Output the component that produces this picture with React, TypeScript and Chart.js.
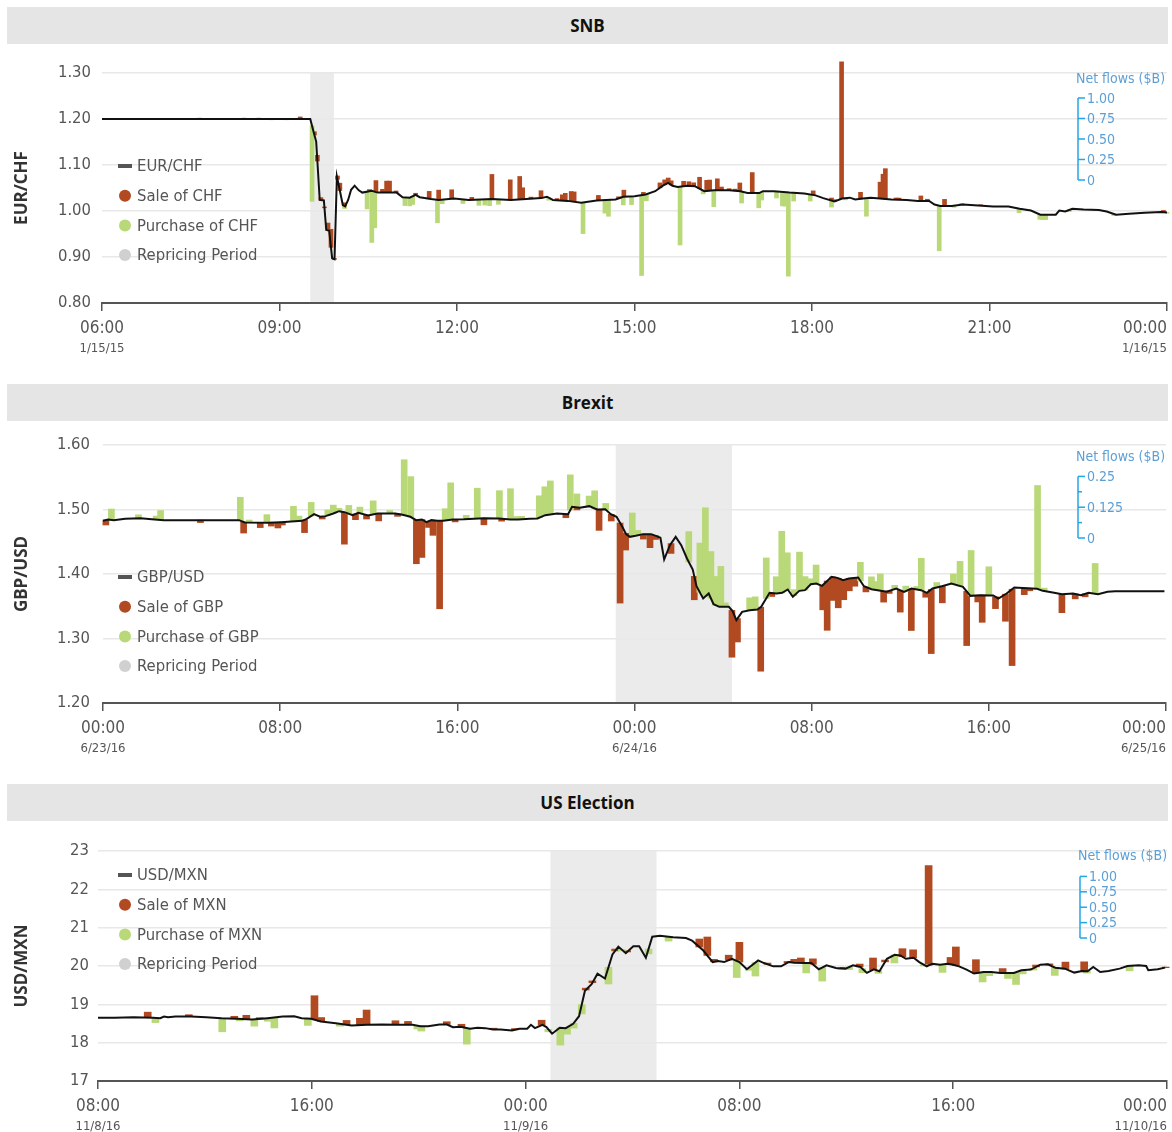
import React, { useEffect, useRef } from 'react';
import { Chart, registerables } from 'chart.js';

Chart.register(...registerables);

const ORANGE = '#b24a21';
const GREEN = '#b9d878';
const BAND = '#ebebeb';
const DOT_GRAY = '#d0d0d0';
const TXT = '#555555';
const AXIS = '#555555';
const GRID = '#e8e8e8';
const BLUE_LINE = '#22a6e6';
const BLUE_TXT = '#5c9fd6';
const COND = "'Liberation Sans Narrow', 'DejaVu Sans Condensed', sans-serif";
const HEAD = "'Open Sans', 'DejaVu Sans', sans-serif";

// ---------------- SNB (EUR/CHF), hours of 1/15/15 ----------------
const snbTimes = [6.0, 9.52, 9.58, 9.62, 9.68, 9.75, 9.79, 9.84, 9.89, 9.93, 9.97, 10.0, 10.07, 10.11, 10.16, 10.21, 10.27, 10.34, 10.4, 10.56, 10.66, 10.98, 11.08, 11.2, 11.3, 11.37, 11.56, 11.69, 11.95, 12.2, 12.59, 12.91, 13.17, 13.42, 13.52, 13.62, 13.87, 14.1, 14.36, 14.68, 14.81, 15.0, 15.19, 15.35, 15.48, 15.57, 15.64, 15.73, 15.89, 16.02, 16.12, 16.18, 16.34, 16.6, 16.79, 16.91, 17.11, 17.17, 17.36, 17.62, 17.87, 18.06, 18.19, 18.38, 18.51, 18.64, 18.73, 18.86, 18.99, 19.15, 19.34, 19.6, 19.79, 19.98, 20.07, 20.17, 20.36, 20.55, 20.81, 21.06, 21.32, 21.51, 21.7, 21.86, 22.12, 22.18, 22.28, 22.4, 22.59, 22.85, 22.98, 23.14, 23.36, 23.62, 23.9, 24.0];
const snbRates = [1.2, 1.2, 1.17, 1.151, 1.024, 1.023, 0.959, 0.957, 0.897, 0.895, 1.075, 1.057, 1.013, 1.01, 1.024, 1.046, 1.055, 1.045, 1.04, 1.044, 1.04, 1.04, 1.03, 1.029, 1.035, 1.03, 1.026, 1.024, 1.027, 1.024, 1.026, 1.024, 1.026, 1.028, 1.031, 1.024, 1.022, 1.018, 1.023, 1.025, 1.031, 1.032, 1.036, 1.043, 1.055, 1.061, 1.055, 1.052, 1.055, 1.054, 1.047, 1.043, 1.045, 1.045, 1.043, 1.039, 1.039, 1.043, 1.043, 1.04, 1.038, 1.034, 1.028, 1.021, 1.027, 1.029, 1.025, 1.027, 1.029, 1.027, 1.025, 1.024, 1.022, 1.022, 1.014, 1.011, 1.011, 1.014, 1.012, 1.01, 1.01, 1.005, 1.001, 0.992, 0.992, 1.001, 0.999, 1.005, 1.003, 1.002, 0.999, 0.992, 0.994, 0.996, 0.998, 0.997];
const snbSaleTimes = [7.65, 8.4, 8.65, 9.35, 9.59, 9.64, 9.7, 9.76, 9.82, 9.87, 9.93, 9.98, 10.02, 10.1, 10.52, 10.63, 10.74, 10.81, 10.86, 10.97, 11.3, 11.53, 11.69, 11.91, 12.25, 12.59, 12.9, 13.06, 13.11, 13.25, 13.42, 13.69, 13.78, 13.83, 13.93, 13.98, 14.39, 14.73, 14.82, 15.15, 15.43, 15.51, 15.57, 15.62, 15.83, 15.92, 16.0, 16.1, 16.22, 16.27, 16.4, 16.47, 16.6, 16.7, 16.78, 16.99, 18.02, 18.33, 18.38, 18.5, 18.82, 19.15, 19.2, 19.24, 19.42, 19.47, 19.84, 19.95, 20.24, 20.53, 20.85, 23.94];
const snbSaleFlows = [0.01, 0.01, 0.01, 0.025, 0.04, 0.07, 0.03, 0.01, 0.09, 0.22, 0.01, 0.04, 0.09, 0.04, 0.02, 0.14, 0.04, 0.14, 0.14, 0.02, 0.02, 0.09, 0.12, 0.11, 0.03, 0.3, 0.245, 0.28, 0.14, 0.02, 0.09, 0.02, 0.07, 0.09, 0.12, 0.12, 0.06, 0.02, 0.08, 0.03, 0.06, 0.06, 0.06, 0.05, 0.06, 0.05, 0.04, 0.14, 0.13, 0.13, 0.14, 0.04, 0.02, 0.02, 0.1, 0.25, 0.05, 0.03, 0.02, 1.67, 0.08, 0.2, 0.3, 0.37, 0.02, 0.02, 0.06, 0.02, 0.08, 0.01, 0.01, 0.02];
const snbPurchaseTimes = [8.86, 9.12, 9.55, 10.1, 10.48, 10.56, 10.61, 11.12, 11.2, 11.25, 11.67, 11.75, 12.1, 12.37, 12.47, 12.55, 12.7, 13.55, 14.13, 14.5, 14.56, 14.81, 14.95, 15.12, 15.2, 15.77, 16.16, 16.34, 16.81, 17.1, 17.15, 17.4, 17.5, 17.55, 17.6, 17.69, 17.97, 18.33, 18.57, 18.92, 20.15, 20.4, 21.5, 21.85, 21.9, 21.95, 22.35, 23.1, 24.0];
const snbPurchaseFlows = [0.01, 0.01, 0.92, 0.03, 0.21, 0.63, 0.44, 0.1, 0.1, 0.1, 0.28, 0.05, 0.05, 0.07, 0.07, 0.08, 0.06, 0.03, 0.38, 0.16, 0.2, 0.1, 0.1, 0.98, 0.08, 0.71, 0.04, 0.2, 0.14, 0.18, 0.1, 0.08, 0.17, 0.17, 1.02, 0.1, 0.08, 0.08, 0.02, 0.22, 0.55, 0.02, 0.05, 0.06, 0.06, 0.06, 0.02, 0.02, 0.01];
const snbTickLabels = ['06:00', '09:00', '12:00', '15:00', '18:00', '21:00', '00:00'];
const snbDateLabels = ['1/15/15', '', '', '', '', '', '1/16/15'];
const snbRepricing = [9.52, 9.92];
const snbFlowTicks = [0, 0.25, 0.5, 0.75, 1];
const snbFlowTickLabels = ['0', '0.25', '0.50', '0.75', '1.00'];

// ---------------- Brexit (GBP/USD), hours from 6/23/16 00:00 ----------------
const brxTimes = [0, 0.23, 0.49, 1.0, 1.7, 2.2, 2.75, 4.0, 5.7, 6.14, 6.4, 7.44, 8.05, 8.5, 9.0, 9.2, 9.53, 9.8, 10.05, 10.4, 10.66, 10.9, 11.27, 11.53, 11.97, 12.4, 12.8, 13.2, 13.53, 13.88, 14.14, 14.4, 14.6, 14.83, 15.1, 15.36, 15.8, 16.3, 17.2, 17.88, 18.4, 18.75, 19.27, 19.62, 19.97, 20.5, 21.0, 21.18, 21.53, 21.96, 22.2, 22.33, 22.68, 22.93, 23.19, 23.45, 23.62, 23.79, 24.05, 24.4, 24.74, 25.0, 25.17, 25.34, 25.6, 25.86, 26.11, 26.37, 26.63, 26.8, 27.1, 27.35, 27.57, 27.83, 28.26, 28.43, 28.6, 28.86, 29.2, 29.55, 29.72, 30.1, 30.41, 30.67, 30.92, 31.15, 31.44, 31.7, 31.96, 32.21, 32.47, 32.9, 33.16, 33.42, 33.68, 34.1, 34.36, 34.7, 35.39, 35.82, 36.17, 36.51, 36.94, 37.2, 37.46, 37.88, 38.31, 38.83, 39.17, 39.6, 40.2, 40.43, 40.8, 41.15, 41.75, 42.18, 42.44, 42.95, 43.3, 43.8, 44.16, 44.5, 44.93, 45.36, 45.7, 47.93];
const brxRates = [1.4825, 1.4845, 1.4835, 1.4856, 1.4866, 1.485, 1.4835, 1.4835, 1.4835, 1.4835, 1.48, 1.4794, 1.4804, 1.4814, 1.4825, 1.4856, 1.4928, 1.4887, 1.4897, 1.4938, 1.4974, 1.4959, 1.4912, 1.4948, 1.4907, 1.4938, 1.4938, 1.4938, 1.4918, 1.4887, 1.4835, 1.4845, 1.4804, 1.4835, 1.4825, 1.4825, 1.4845, 1.485, 1.4866, 1.4861, 1.4845, 1.4845, 1.4856, 1.4861, 1.4912, 1.4938, 1.4928, 1.5041, 1.5026, 1.5052, 1.5015, 1.5, 1.5005, 1.4928, 1.4886, 1.4731, 1.4618, 1.4576, 1.4592, 1.4618, 1.4618, 1.4587, 1.4561, 1.4225, 1.4447, 1.4576, 1.4447, 1.424, 1.407, 1.3811, 1.362, 1.3698, 1.3532, 1.3491, 1.3491, 1.3424, 1.3284, 1.3413, 1.3439, 1.345, 1.3491, 1.3708, 1.3698, 1.3708, 1.376, 1.3646, 1.3739, 1.375, 1.3842, 1.3853, 1.3817, 1.3956, 1.394, 1.3904, 1.393, 1.3946, 1.3811, 1.3765, 1.3724, 1.3775, 1.3724, 1.3775, 1.3749, 1.3708, 1.3775, 1.3811, 1.3853, 1.3801, 1.3661, 1.3672, 1.3667, 1.362, 1.3698, 1.3791, 1.378, 1.377, 1.3739, 1.3708, 1.3687, 1.3698, 1.3672, 1.3708, 1.3687, 1.3724, 1.3734, 1.3734];
const brxSaleTimes = [0.13, 4.4, 6.35, 7.1, 7.6, 7.9, 8.1, 9.1, 9.9, 10.9, 11.4, 11.9, 12.45, 13.3, 14.15, 14.4, 14.7, 14.9, 15.2, 15.9, 17.2, 18.0, 20.9, 21.4, 22.4, 22.95, 23.35, 23.6, 24.4, 24.7, 24.95, 25.65, 26.7, 28.4, 28.65, 29.7, 30.2, 32.5, 32.7, 32.95, 33.2, 33.45, 33.7, 33.95, 34.45, 35.25, 35.5, 36.0, 36.5, 37.15, 37.4, 37.9, 39.0, 39.5, 39.7, 40.3, 40.75, 41.05, 41.6, 41.85, 43.3, 43.9, 44.35];
const brxSaleFlows = [0.02, 0.01, 0.045, 0.02, 0.014, 0.023, 0.012, 0.052, 0.01, 0.13, 0.023, 0.016, 0.03, 0.01, 0.177, 0.154, 0.025, 0.061, 0.357, 0.01, 0.027, 0.01, 0.015, 0.01, 0.085, 0.027, 0.325, 0.068, 0.02, 0.055, 0.015, 0.04, 0.095, 0.19, 0.095, 0.26, 0.014, 0.1, 0.2, 0.095, 0.12, 0.08, 0.05, 0.034, 0.02, 0.044, 0.01, 0.089, 0.17, 0.02, 0.26, 0.068, 0.22, 0.027, 0.11, 0.048, 0.11, 0.31, 0.027, 0.01, 0.075, 0.02, 0.012];
const brxPurchaseTimes = [0.38, 1.6, 2.4, 2.6, 6.2, 6.6, 7.4, 8.6, 8.85, 9.4, 10.15, 10.4, 10.65, 11.1, 11.6, 12.2, 12.95, 13.6, 13.9, 15.45, 15.7, 16.4, 16.9, 17.9, 18.4, 18.65, 18.9, 19.7, 19.95, 20.2, 21.1, 21.4, 21.95, 22.2, 22.7, 23.9, 24.15, 26.45, 26.95, 27.2, 27.45, 27.65, 27.9, 28.1, 29.2, 29.45, 29.95, 30.4, 30.65, 30.9, 31.2, 31.45, 31.7, 31.95, 32.2, 34.2, 34.7, 34.9, 35.1, 35.75, 36.25, 36.75, 36.95, 37.65, 38.4, 38.7, 39.2, 40.0, 42.2, 42.5, 44.8];
const brxPurchaseFlows = [0.044, 0.014, 0.014, 0.038, 0.095, 0.01, 0.033, 0.061, 0.02, 0.055, 0.022, 0.034, 0.012, 0.034, 0.025, 0.055, 0.012, 0.225, 0.164, 0.048, 0.15, 0.015, 0.123, 0.113, 0.125, 0.012, 0.012, 0.089, 0.116, 0.136, 0.143, 0.055, 0.041, 0.072, 0.025, 0.095, 0.02, 0.123, 0.2, 0.36, 0.19, 0.116, 0.164, 0.016, 0.05, 0.052, 0.164, 0.068, 0.25, 0.15, 0.025, 0.157, 0.055, 0.023, 0.075, 0.075, 0.05, 0.034, 0.068, 0.015, 0.02, 0.012, 0.13, 0.02, 0.041, 0.1, 0.184, 0.116, 0.42, 0.012, 0.123];
const brxTickLabels = ['00:00', '08:00', '16:00', '00:00', '08:00', '16:00', '00:00'];
const brxDateLabels = ['6/23/16', '', '', '6/24/16', '', '', '6/25/16'];
const brxRepricing = [23.15, 28.4];
const brxFlowTicks = [0, 0.0625, 0.125, 0.1875, 0.25];
const brxFlowTickLabels = ['0', '', '0.125', '', '0.25'];

// ---------------- US Election (USD/MXN), hours from 11/8/16 00:00 ----------------
const usTimes = [8.0, 8.62, 9.33, 10.05, 10.33, 10.47, 10.62, 10.9, 11.48, 12.05, 12.62, 13.2, 13.77, 14.34, 14.91, 15.34, 15.62, 15.98, 16.34, 16.9, 17.49, 18.06, 18.63, 19.2, 19.77, 20.06, 20.35, 20.78, 21.06, 21.28, 21.56, 21.92, 22.2, 22.49, 22.78, 23.06, 23.49, 23.77, 24.06, 24.2, 24.35, 24.63, 24.78, 24.99, 25.28, 25.5, 25.78, 26.0, 26.22, 26.47, 26.69, 26.97, 27.25, 27.47, 27.75, 28.03, 28.25, 28.5, 28.74, 29.03, 29.52, 30.0, 30.23, 30.65, 31.0, 31.2, 31.43, 31.72, 32.0, 32.28, 32.7, 32.92, 33.27, 33.56, 33.84, 34.05, 34.48, 34.69, 34.97, 35.26, 35.61, 35.97, 36.25, 36.53, 36.77, 37.03, 37.24, 37.52, 37.81, 38.02, 38.23, 38.52, 38.73, 39.01, 39.22, 39.51, 39.79, 40.0, 40.22, 40.5, 40.78, 41.14, 41.42, 41.77, 41.99, 42.27, 42.55, 42.9, 43.26, 43.54, 43.82, 44.18, 44.53, 44.82, 45.03, 45.24, 45.5, 45.81, 46.23, 46.52, 46.94, 47.22, 47.3, 47.65, 47.93];
const usRates = [18.647, 18.647, 18.664, 18.647, 18.638, 18.681, 18.664, 18.681, 18.681, 18.664, 18.638, 18.621, 18.603, 18.638, 18.681, 18.69, 18.638, 18.621, 18.552, 18.509, 18.448, 18.466, 18.474, 18.466, 18.466, 18.431, 18.431, 18.474, 18.474, 18.405, 18.414, 18.362, 18.388, 18.379, 18.345, 18.345, 18.319, 18.362, 18.362, 18.466, 18.379, 18.466, 18.405, 18.233, 18.388, 18.379, 18.491, 18.69, 19.353, 19.526, 19.8, 19.674, 20.3, 20.506, 20.335, 20.515, 20.515, 20.215, 20.764, 20.79, 20.747, 20.73, 20.661, 20.403, 20.103, 20.129, 20.103, 20.189, 20.103, 19.914, 20.146, 20.077, 19.991, 19.991, 20.103, 20.086, 20.077, 20.077, 19.914, 20.017, 19.948, 19.931, 20.017, 19.974, 19.82, 19.914, 19.863, 20.189, 20.292, 20.275, 20.189, 20.215, 20.103, 19.991, 20.06, 20.034, 20.06, 20.034, 19.991, 19.906, 19.803, 19.845, 19.845, 19.82, 19.82, 19.82, 19.888, 19.906, 20.034, 20.043, 19.957, 19.931, 19.828, 19.871, 19.863, 19.974, 19.845, 19.871, 19.931, 20.0, 20.017, 20.0, 19.888, 19.914, 19.957];
const usSaleTimes = [9.86, 11.4, 13.1, 13.55, 14.05, 16.1, 16.35, 17.3, 17.8, 18.05, 19.13, 19.6, 21.05, 21.6, 22.8, 23.6, 24.6, 26.25, 26.5, 27.35, 27.8, 30.5, 30.8, 31.05, 31.6, 32.0, 33.05, 33.8, 34.05, 34.3, 34.75, 35.9, 36.5, 37.0, 37.45, 38.1, 38.5, 39.08, 39.9, 40.1, 40.85, 41.85, 43.1, 43.6, 44.2, 44.9, 47.95];
const usSaleFlows = [0.09, 0.03, 0.04, 0.065, 0.02, 0.39, 0.065, 0.07, 0.11, 0.24, 0.065, 0.055, 0.045, 0.045, 0.02, 0.02, 0.08, 0.03, 0.03, 0.03, 0.02, 0.13, 0.3, 0.04, 0.08, 0.32, 0.02, 0.02, 0.055, 0.08, 0.09, 0.02, 0.045, 0.19, 0.03, 0.13, 0.13, 1.62, 0.11, 0.3, 0.22, 0.07, 0.03, 0.02, 0.11, 0.15, 0.01];
const usPurchaseTimes = [10.15, 12.65, 13.3, 13.85, 14.35, 14.6, 15.85, 17.05, 19.95, 20.1, 21.8, 24.85, 25.3, 25.55, 25.8, 26.1, 27.1, 27.6, 28.6, 29.35, 31.9, 32.35, 32.6, 34.5, 35.1, 35.8, 36.1, 36.6, 37.2, 37.8, 38.9, 39.6, 41.1, 41.35, 42.05, 42.35, 42.6, 43.0, 43.8, 45.0, 46.6];
const usPurchaseFlows = [0.075, 0.22, 0.03, 0.11, 0.05, 0.17, 0.11, 0.04, 0.055, 0.08, 0.26, 0.04, 0.28, 0.11, 0.08, 0.15, 0.27, 0.02, 0.08, 0.07, 0.27, 0.04, 0.22, 0.16, 0.22, 0.02, 0.04, 0.065, 0.04, 0.13, 0.02, 0.13, 0.16, 0.06, 0.09, 0.2, 0.06, 0.03, 0.13, 0.03, 0.08];
const usTickLabels = ['08:00', '16:00', '00:00', '08:00', '16:00', '00:00'];
const usDateLabels = ['11/8/16', '', '11/9/16', '', '', '11/10/16'];
const usRepricing = [24.93, 28.9];
const usFlowTicks = [0, 0.25, 0.5, 0.75, 1];
const usFlowTickLabels = ['0', '0.25', '0.50', '0.75', '1.00'];

const panels = [
  {
    title: 'SNB', pair: 'EUR/CHF', saleLabel: 'Sale of CHF', purLabel: 'Purchase of CHF',
    times: snbTimes, rates: snbRates, saleT: snbSaleTimes, saleF: snbSaleFlows, purT: snbPurchaseTimes, purF: snbPurchaseFlows,
    saleDir: 1, k: 0.1783, xMin: 6, xMax: 24, xStep: 3, xLabels: snbTickLabels, xDates: snbDateLabels,
    yMin: 0.8, yMax: 1.3, yStep: 0.1, yDec: 2, band: snbRepricing,
    flowZero: 1.0674, flowMax: 1, flowTicks: snbFlowTicks, flowTickLabels: snbFlowTickLabels,
    top: 7, canvasH: 340, padTop: 29, padRight: 5, leftW: 102, axisH: 81, yPad: 11, barW: 4,
    legendY: 122, flowX: 1078, flowTitleY: 35,
  },
  {
    title: 'Brexit', pair: 'GBP/USD', saleLabel: 'Sale of GBP', purLabel: 'Purchase of GBP',
    times: brxTimes, rates: brxRates, saleT: brxSaleTimes, saleF: brxSaleFlows, purT: brxPurchaseTimes, purF: brxPurchaseFlows,
    saleDir: -1, k: 0.382, xMin: 0, xMax: 48, xStep: 8, xLabels: brxTickLabels, xDates: brxDateLabels,
    yMin: 1.2, yMax: 1.6, yStep: 0.1, yDec: 2, band: brxRepricing,
    flowZero: 1.4558, flowMax: 0.25, flowTicks: brxFlowTicks, flowTickLabels: brxFlowTickLabels,
    top: 384, canvasH: 363, padTop: 24, padRight: 6, leftW: 103, axisH: 81, yPad: 13, barW: 6,
    legendY: 156, flowX: 1078, flowTitleY: 36,
  },
  {
    title: 'US Election', pair: 'USD/MXN', saleLabel: 'Sale of MXN', purLabel: 'Purchase of MXN',
    times: usTimes, rates: usRates, saleT: usSaleTimes, saleF: usSaleFlows, purT: usPurchaseTimes, purF: usPurchaseFlows,
    saleDir: 1, k: 1.607, xMin: 8, xMax: 48, xStep: 8, xLabels: usTickLabels, xDates: usDateLabels,
    yMin: 17, yMax: 23, yStep: 1, yDec: 0, band: usRepricing,
    flowZero: 20.73, flowMax: 1, flowTicks: usFlowTicks, flowTickLabels: usFlowTickLabels,
    top: 784, canvasH: 311, padTop: 30, padRight: 5, leftW: 98, axisH: 51, yPad: 9, barW: 7,
    legendY: 54, flowX: 1080, flowTitleY: 35,
  },
];

function rateAt(ts: number[], vs: number[], t: number) {
  if (t <= ts[0]) return vs[0];
  for (let i = 1; i < ts.length; i++) {
    if (t <= ts[i]) {
      const f = (t - ts[i - 1]) / (ts[i] - ts[i - 1]);
      return vs[i - 1] + f * (vs[i] - vs[i - 1]);
    }
  }
  return vs[vs.length - 1];
}

function ChartPanel({ p }: { p: any }) {
  const ref = useRef<HTMLCanvasElement>(null);
  useEffect(() => {
    const canvas = ref.current;
    if (!canvas) return;
    const mkBars = (ts: number[], fs: number[], dir: number) =>
      ts.map((t, i) => {
        const b = rateAt(p.times, p.rates, t);
        return { x: t, y: [b, b + dir * fs[i] * p.k] };
      });

    const deco = {
      id: 'deco',
      beforeDraw(chart: any) {
        const { ctx, chartArea: a, scales } = chart;
        const x = scales.x;
        const x0 = x.getPixelForValue(p.band[0]);
        const x1 = x.getPixelForValue(p.band[1]);
        ctx.save();
        ctx.fillStyle = BAND;
        ctx.fillRect(x0, a.top, x1 - x0, a.bottom - a.top);
        ctx.restore();
      },
      afterDraw(chart: any) {
        const { ctx, chartArea: a, scales } = chart;
        const x = scales.x;
        const y = scales.y;
        ctx.save();
        ctx.textBaseline = 'middle';
        ctx.fillStyle = TXT;
        const n = x.ticks.length;
        x.ticks.forEach((t: any, i: number) => {
          const px = x.getPixelForValue(t.value);
          ctx.textAlign = i === n - 1 ? 'right' : 'center';
          ctx.font = `17px ${COND}`;
          ctx.fillText(p.xLabels[i] || '', px, a.bottom + 25.5);
          if (p.xDates[i]) {
            ctx.font = `13px ${COND}`;
            ctx.fillText(p.xDates[i], px, a.bottom + 45.5);
          }
        });
        // legend
        const items = [
          { kind: 'line', color: AXIS, text: p.pair },
          { kind: 'dot', color: ORANGE, text: p.saleLabel },
          { kind: 'dot', color: GREEN, text: p.purLabel },
          { kind: 'dot', color: DOT_GRAY, text: 'Repricing Period' },
        ];
        items.forEach((it, i) => {
          const cy = p.legendY + i * 29.7;
          ctx.fillStyle = it.color;
          if (it.kind === 'line') {
            ctx.fillRect(118, cy - 2, 14, 4);
          } else {
            ctx.beginPath();
            ctx.arc(125, cy, 6, 0, Math.PI * 2);
            ctx.fill();
          }
          ctx.fillStyle = TXT;
          ctx.textAlign = 'left';
          ctx.font = `16.5px ${COND}`;
          ctx.fillText(it.text, 137, cy + 1);
        });
        // net flows mini axis
        const zero = y.getPixelForValue(p.flowZero);
        const pxPerB = zero - y.getPixelForValue(p.flowZero + p.k);
        const top = zero - p.flowMax * pxPerB;
        ctx.strokeStyle = BLUE_LINE;
        ctx.lineWidth = 1.5;
        ctx.beginPath();
        ctx.moveTo(p.flowX, top);
        ctx.lineTo(p.flowX, zero);
        ctx.stroke();
        p.flowTicks.forEach((v: number, i: number) => {
          const ty = zero - v * pxPerB;
          const lbl = p.flowTickLabels[i];
          ctx.beginPath();
          ctx.moveTo(p.flowX, ty);
          ctx.lineTo(p.flowX + (lbl ? 7 : 4), ty);
          ctx.stroke();
          if (lbl) {
            ctx.fillStyle = BLUE_TXT;
            ctx.font = `14px ${COND}`;
            ctx.textAlign = 'left';
            ctx.fillText(lbl, p.flowX + 9, ty + 1);
          }
        });
        ctx.fillStyle = BLUE_TXT;
        ctx.font = `14px ${COND}`;
        ctx.textAlign = 'left';
        ctx.fillText('Net flows ($B)', p.flowX - 2, p.flowTitleY);
        ctx.restore();
      },
    };

    const chart = new Chart(canvas, {
      type: 'bar',
      data: {
        datasets: [
          {
            type: 'line', label: p.pair,
            data: p.times.map((t: number, i: number) => ({ x: t, y: p.rates[i] })),
            borderColor: '#111111', borderWidth: 2, pointRadius: 0, tension: 0, order: 0,
          } as any,
          {
            type: 'bar', label: p.saleLabel, data: mkBars(p.saleT, p.saleF, p.saleDir),
            backgroundColor: ORANGE, barThickness: p.barW, grouped: false, order: 2, clip: false,
          } as any,
          {
            type: 'bar', label: p.purLabel, data: mkBars(p.purT, p.purF, -p.saleDir),
            backgroundColor: GREEN, barThickness: p.barW, grouped: false, order: 1, clip: false,
          } as any,
        ],
      },
      options: {
        animation: false,
        responsive: false,
        events: [],
        layout: { autoPadding: false, padding: { top: p.padTop, right: p.padRight, bottom: 0, left: 0 } },
        plugins: { legend: { display: false }, tooltip: { enabled: false } },
        scales: {
          x: {
            type: 'linear', min: p.xMin, max: p.xMax, offset: false,
            ticks: { stepSize: p.xStep, display: false },
            grid: { offset: false, drawOnChartArea: false, drawTicks: true, tickLength: 8, color: AXIS, lineWidth: 1.5 },
            border: { display: true, color: AXIS, width: 2 },
            afterFit: (s: any) => { s.height = p.axisH; },
          },
          y: {
            type: 'linear', min: p.yMin, max: p.yMax,
            ticks: {
              stepSize: p.yStep, color: TXT, padding: p.yPad,
              font: { family: COND, size: 16.5 },
              callback: (v: any) => Number(v).toFixed(p.yDec),
            },
            grid: { color: GRID, lineWidth: 1.5, drawTicks: false },
            border: { display: false },
            title: {
              display: true, text: p.pair, color: '#333333',
              font: { family: HEAD, size: 17, weight: 'bold' },
              padding: { top: 12, bottom: 0 },
            },
            afterFit: (s: any) => { s.width = p.leftW; },
          },
        },
      } as any,
      plugins: [deco],
    });
    return () => chart.destroy();
  }, [p]);

  return (
    <>
      <div
        style={{
          position: 'absolute', left: 7, top: p.top, width: 1161, height: 37,
          background: '#e5e5e5', font: `700 17px ${HEAD}`, color: '#111',
          textAlign: 'center', lineHeight: '37px',
        }}
      >
        {p.title}
      </div>
      <canvas
        ref={ref}
        width={1172}
        height={p.canvasH}
        style={{ position: 'absolute', left: 0, top: p.top + 37, width: 1172, height: p.canvasH }}
      />
    </>
  );
}

export default function App() {
  return (
    <div style={{ position: 'absolute', left: 0, top: 0, width: 1172, height: 1132, overflow: 'hidden', background: '#fff' }}>
      {panels.map((p) => (
        <ChartPanel key={p.title} p={p} />
      ))}
    </div>
  );
}
